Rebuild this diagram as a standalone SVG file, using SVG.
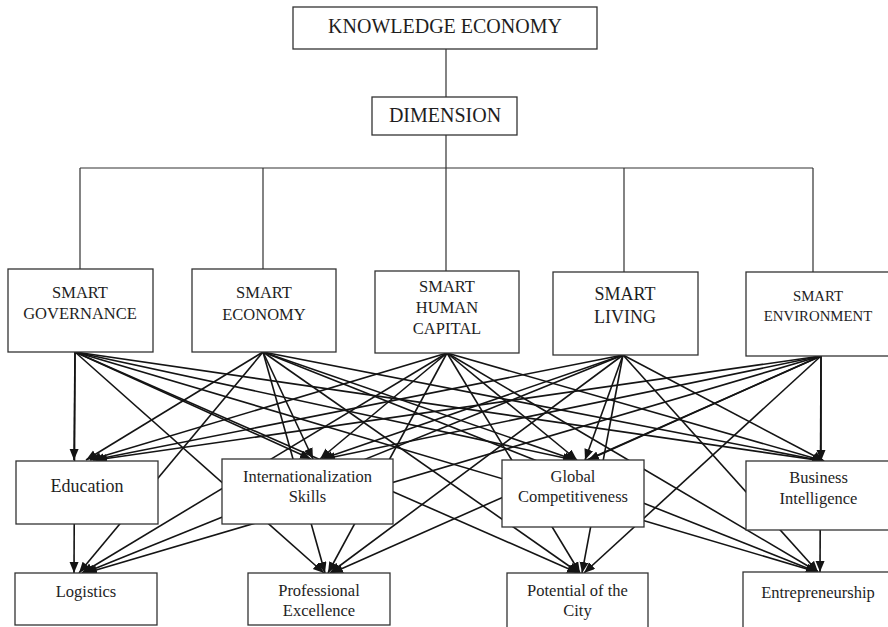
<svg xmlns="http://www.w3.org/2000/svg" width="888" height="627" viewBox="0 0 888 627">
  <style>
    .box { fill: #ffffff; stroke: #333333; stroke-width: 1.3; }
    .t { font-family: "Liberation Serif", "Times New Roman", serif; fill: #1e1e1e; text-anchor: middle; }
    .tree { stroke: #333333; stroke-width: 1.2; fill: none; }
    .arr { stroke: #141414; stroke-width: 1.6; fill: none; marker-end: url(#ah); }
  </style>
  <defs>
    <marker id="ah" markerUnits="userSpaceOnUse" markerWidth="12" markerHeight="10" refX="11" refY="4.5" orient="auto">
      <path d="M0,0 L11,4.5 L0,9 Z" fill="#141414"/>
    </marker>
  </defs>

  <rect width="888" height="627" fill="#ffffff"/>

  <!-- connectors -->
  <g id="connectors">
    <!-- hierarchy tree -->
    <path class="tree" d="M446,49 V97 M446,135 V168 M80,168 H813 M80,168 V269 M263,168 V269 M446,168 V271 M624,168 V272 M813,168 V272"/>

    <!-- SMART GOVERNANCE -->
    <line class="arr" x1="75" y1="352" x2="74" y2="460"/>
    <line class="arr" x1="75" y1="352" x2="311" y2="459"/>
    <line class="arr" x1="75" y1="352" x2="574" y2="460"/>
    <line class="arr" x1="75" y1="352" x2="823" y2="461"/>
    <line class="arr" x1="75" y1="352" x2="74" y2="573"/>
    <line class="arr" x1="75" y1="352" x2="324" y2="573"/>
    <line class="arr" x1="75" y1="352" x2="578" y2="573"/>
    <line class="arr" x1="75" y1="352" x2="817" y2="572"/>

    <!-- SMART ECONOMY -->
    <line class="arr" x1="263" y1="352" x2="86" y2="460"/>
    <line class="arr" x1="263" y1="352" x2="313" y2="459"/>
    <line class="arr" x1="263" y1="352" x2="575" y2="460"/>
    <line class="arr" x1="263" y1="352" x2="823" y2="461"/>
    <line class="arr" x1="263" y1="352" x2="79" y2="573"/>
    <line class="arr" x1="263" y1="352" x2="325" y2="573"/>
    <line class="arr" x1="263" y1="352" x2="579" y2="573"/>
    <line class="arr" x1="263" y1="352" x2="817" y2="572"/>

    <!-- SMART HUMAN CAPITAL -->
    <line class="arr" x1="447" y1="353" x2="90" y2="460"/>
    <line class="arr" x1="447" y1="353" x2="320" y2="459"/>
    <line class="arr" x1="447" y1="353" x2="577" y2="460"/>
    <line class="arr" x1="447" y1="353" x2="824" y2="461"/>
    <line class="arr" x1="447" y1="353" x2="82" y2="573"/>
    <line class="arr" x1="447" y1="353" x2="328" y2="573"/>
    <line class="arr" x1="447" y1="353" x2="580" y2="573"/>
    <line class="arr" x1="447" y1="353" x2="818" y2="572"/>

    <!-- SMART LIVING -->
    <line class="arr" x1="623" y1="355" x2="93" y2="460"/>
    <line class="arr" x1="623" y1="355" x2="322" y2="459"/>
    <line class="arr" x1="623" y1="355" x2="585" y2="460"/>
    <line class="arr" x1="623" y1="355" x2="824" y2="461"/>
    <line class="arr" x1="623" y1="355" x2="84" y2="573"/>
    <line class="arr" x1="623" y1="355" x2="330" y2="573"/>
    <line class="arr" x1="623" y1="355" x2="582" y2="573"/>
    <line class="arr" x1="623" y1="355" x2="818" y2="572"/>

    <!-- SMART ENVIRONMENT -->
    <line class="arr" x1="821" y1="356" x2="96" y2="460"/>
    <line class="arr" x1="821" y1="356" x2="324" y2="459"/>
    <line class="arr" x1="821" y1="356" x2="588" y2="460"/>
    <line class="arr" x1="821" y1="356" x2="821" y2="461"/>
    <line class="arr" x1="821" y1="356" x2="86" y2="573"/>
    <line class="arr" x1="821" y1="356" x2="332" y2="573"/>
    <line class="arr" x1="821" y1="356" x2="584" y2="573"/>
    <line class="arr" x1="821" y1="356" x2="820" y2="572"/>
  </g>

  <!-- top levels -->
  <g id="knowledge-economy">
    <rect class="box" x="293" y="7" width="304" height="42"/>
    <text class="t" x="445" y="33" font-size="20">KNOWLEDGE ECONOMY</text>
  </g>
  <g id="dimension">
    <rect class="box" x="372" y="97" width="145" height="38"/>
    <text class="t" x="445" y="122" font-size="20">DIMENSION</text>
  </g>

  <!-- smart dimensions -->
  <g id="smart-governance">
    <rect class="box" x="8" y="269" width="145" height="83"/>
    <text class="t" x="80" y="298" font-size="16.5">SMART</text>
    <text class="t" x="80" y="319" font-size="16.5">GOVERNANCE</text>
  </g>
  <g id="smart-economy">
    <rect class="box" x="192" y="269" width="144" height="83"/>
    <text class="t" x="264" y="298" font-size="16.5">SMART</text>
    <text class="t" x="264" y="320" font-size="16.5">ECONOMY</text>
  </g>
  <g id="smart-human-capital">
    <rect class="box" x="375" y="271" width="144" height="82"/>
    <text class="t" x="447" y="292" font-size="16.5">SMART</text>
    <text class="t" x="447" y="313" font-size="16.5">HUMAN</text>
    <text class="t" x="447" y="334" font-size="16.5">CAPITAL</text>
  </g>
  <g id="smart-living">
    <rect class="box" x="553" y="272" width="145" height="83"/>
    <text class="t" x="625" y="300" font-size="18">SMART</text>
    <text class="t" x="625" y="323" font-size="18">LIVING</text>
  </g>
  <g id="smart-environment">
    <rect class="box" x="746" y="272" width="145" height="84"/>
    <text class="t" x="818" y="301" font-size="14.8">SMART</text>
    <text class="t" x="818" y="321" font-size="14.8">ENVIRONMENT</text>
  </g>

  <!-- knowledge-economy components -->
  <g id="education">
    <rect class="box" x="16" y="461" width="142" height="63"/>
    <text class="t" x="87" y="492" font-size="18">Education</text>
  </g>
  <g id="internationalization-skills">
    <rect class="box" x="222" y="459" width="171" height="65"/>
    <text class="t" x="307.5" y="482" font-size="16.5">Internationalization</text>
    <text class="t" x="307.5" y="502" font-size="16.5">Skills</text>
  </g>
  <g id="global-competitiveness">
    <rect class="box" x="502" y="460" width="142" height="67"/>
    <text class="t" x="573" y="482" font-size="16.5">Global</text>
    <text class="t" x="573" y="502" font-size="16.5">Competitiveness</text>
  </g>
  <g id="business-intelligence">
    <rect class="box" x="746" y="461" width="145" height="69"/>
    <text class="t" x="818.5" y="483" font-size="16.5">Business</text>
    <text class="t" x="818.5" y="504" font-size="16.5">Intelligence</text>
  </g>

  <!-- outcomes -->
  <g id="logistics">
    <rect class="box" x="15" y="573" width="142" height="52"/>
    <text class="t" x="86" y="597" font-size="16.5">Logistics</text>
  </g>
  <g id="professional-excellence">
    <rect class="box" x="248" y="573" width="142" height="52"/>
    <text class="t" x="319" y="596" font-size="16.5">Professional</text>
    <text class="t" x="319" y="616" font-size="16.5">Excellence</text>
  </g>
  <g id="potential-of-the-city">
    <rect class="box" x="507" y="573" width="141" height="60"/>
    <text class="t" x="577.5" y="596" font-size="16.5">Potential of the</text>
    <text class="t" x="577.5" y="616" font-size="16.5">City</text>
  </g>
  <g id="entrepreneurship">
    <rect class="box" x="743" y="572" width="150" height="60"/>
    <text class="t" x="818" y="598" font-size="16.5">Entrepreneurship</text>
  </g>
</svg>
